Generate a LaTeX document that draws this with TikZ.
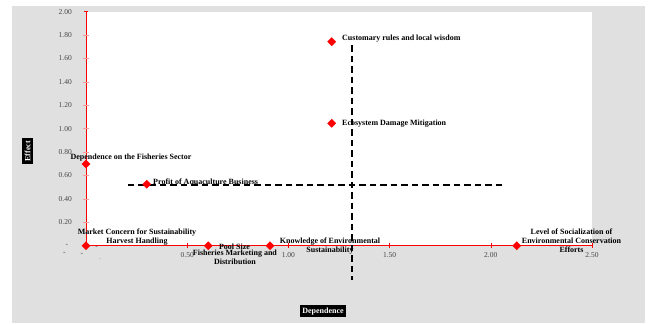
\documentclass[tikz,border=0pt]{standalone}
\usepackage{fontspec}
\setmainfont{Liberation Serif}
\usetikzlibrary{shapes.geometric}
\definecolor{panelgray}{RGB}{224,224,224}
\definecolor{ticktext}{RGB}{70,70,70}
\tikzset{
    point/.style={diamond, fill=red, inner sep=0pt, minimum size=9pt},
    lbl/.style={font=\fontsize{8}{9}\selectfont\bfseries, inner sep=0pt, align=center},
    ticklbl/.style={font=\fontsize{7.5}{9}\selectfont, text=ticktext, inner sep=0pt},
    axistitle/.style={fill=black, text=white, font=\fontsize{8}{9}\selectfont\bfseries, inner sep=2.6pt},
    meanline/.style={black, line width=1.8pt, dash pattern=on 6.5pt off 4pt},
}

\begin{document}
\begin{tikzpicture}[x=202.4pt, y=117pt]
    \useasboundingbox (-0.4249,-0.6607) rectangle (2.7816,2.1);

    % Background
    \fill[panelgray] (-0.3656,-0.6607) rectangle (2.7619,2.0487);
    \fill[white] (0,0) rectangle (2.5,2);

    % Axes
    \draw[red, line width=0.8pt] (0,0) -- (2.5,0);
    \draw[red, line width=0.8pt] (0,0) -- (0,2);
    \foreach \y in {0.2,0.4,...,1.81} \draw[red!40, line width=0.7pt] (0,\y) ++(-3pt,0) -- ++(6pt,0);
    \draw[red, line width=0.7pt] (0,2) ++(-2pt,0) -- ++(4pt,0);
    \foreach \x in {0.5,1,1.5,2,2.5} \draw[red, line width=0.6pt] (\x,0) ++(0,-2.5pt) -- ++(0,5pt);

    % Tick labels
    \foreach \y in {0.20,0.40,0.60,0.80,1.00,1.20,1.40,1.60,1.80,2.00}
        \node[ticklbl, anchor=east, xshift=-14pt] at (0,\y) {\y};
    \foreach \x in {0.50,1.00,1.50,2.00,2.50}
        \node[ticklbl, yshift=-9.5pt] at (\x,0) {\x};
    \node[ticklbl] (zy) at (-0.095,0) {-};
    \node[ticklbl] (zx) at (-0.021,-0.078) {-};
    \node[ticklbl] (za) at (-0.107,-0.063) {-};
    \node[ticklbl] (zb) at (0.053,-0.012) {-};
    \node[ticklbl, text=gray!60] (zc) at (0.069,-0.121) {-};

    % Mean lines
    \coordinate (hl) at (0.2075,0.519);
    \coordinate (hr) at (2.059,0.519);
    \coordinate (vt) at (1.316,1.715);
    \coordinate (vb) at (1.316,-0.293);
    \draw[meanline] (hl) -- (hr);
    \draw[meanline] (vt) -- (vb);

    % Points
    \node[point] (cust) at (1.214,1.744) {};
    \node[point] (eco) at (1.214,1.046) {};
    \node[point] (dep) at (0,0.698) {};
    \node[point] (profit) at (0.30,0.525) {};
    \node[point] (market) at (0,0) {};
    \node[point] (pool) at (0.604,0) {};
    \node[point] (know) at (0.909,0) {};
    \node[point] (social) at (2.128,0) {};

    % Point labels
    \node[lbl, anchor=west, xshift=10.3pt, yshift=3.4pt] (custlbl) at (cust) {Customary rules and local wisdom};
    \node[lbl, anchor=west, xshift=10.3pt, yshift=-0.5pt] (ecolbl) at (eco) {Ecosystem Damage Mitigation};
    \node[lbl, xshift=45pt, yshift=6pt] (deplbl) at (dep) {Dependence on the Fisheries Sector};
    \node[lbl, anchor=west, xshift=6.3pt, yshift=1.3pt] (profitlbl) at (profit) {Profit of Aquaculture Business};
    \node[lbl, xshift=51pt, yshift=8.8pt] (marketlbl) at (market) {Market Concern for Sustainability\\Harvest Handling};
    \node[lbl, xshift=26.2pt, yshift=-0.7pt] (poollbl) at (pool) {Pool Size};
    \node[lbl, xshift=26.7pt, yshift=-11.8pt] (distlbl) at (pool) {Fisheries Marketing and\\Distribution};
    \node[lbl, xshift=60pt] (knowlbl) at (know) {Knowledge of Environmental\\Sustainability};
    \node[lbl, xshift=54.8pt, yshift=5pt] (sociallbl) at (social) {Level of Socialization of\\Environmental Conservation\\Efforts};

    % Axis titles
    \node[axistitle, rotate=90] (effect) at (-0.2891,0.808) {Effect};
    \node[axistitle] (dependence) at (1.171,-0.559) {Dependence};
\end{tikzpicture}
\end{document}
